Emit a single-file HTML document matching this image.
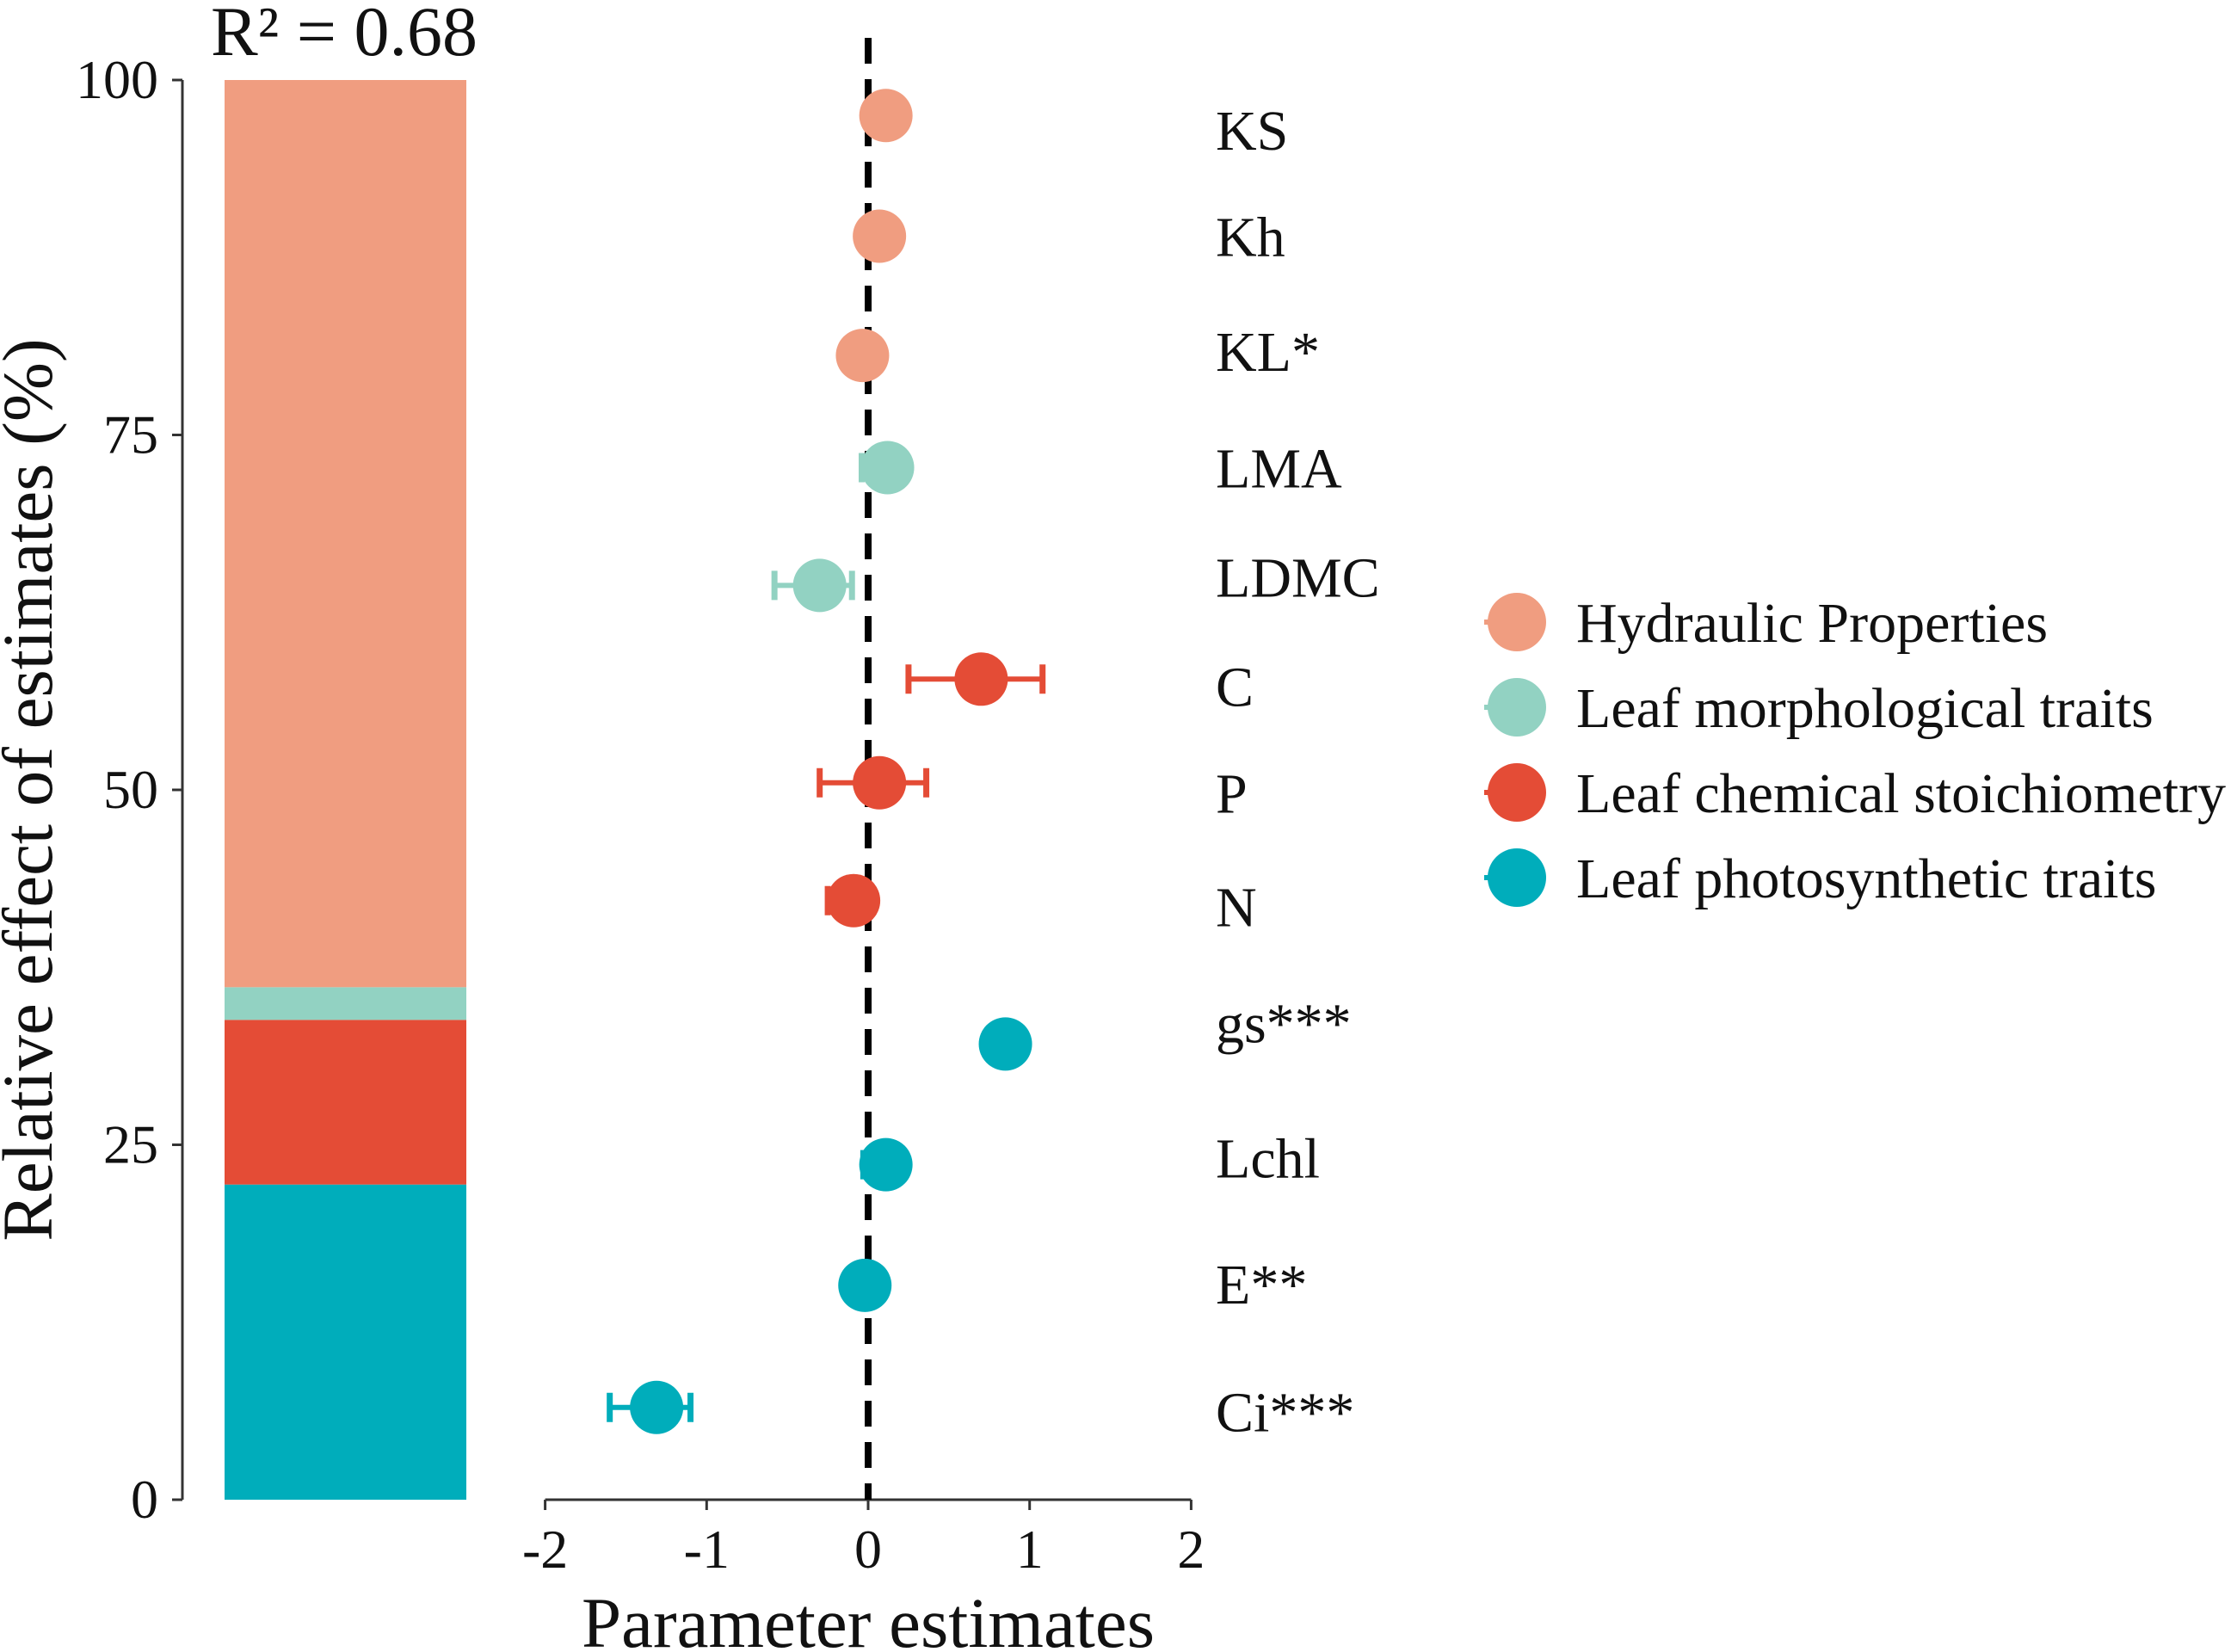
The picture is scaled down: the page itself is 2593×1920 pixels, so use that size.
<!DOCTYPE html>
<html><head><meta charset="utf-8"><style>
html,body{margin:0;padding:0;background:#fff}
svg{display:block;font-family:"Liberation Serif",serif}
</style></head><body>
<svg id="chart" width="2593" height="1920" viewBox="0 0 2593 1920"></svg>
<script>
const groups=["Hydraulic Properties","Leaf morphological traits","Leaf chemical stoichiometry","Leaf photosynthetic traits"];
const groupColors=["#f09d80","#92d2c2","#e44c36","#00adbb"];
const shares=[63.9,2.3,11.6,22.2];
const traits=["KS","Kh","KL*","LMA","LDMC","C","P","N","gs***","Lchl","E**","Ci***"];
const traitGroup=[0,0,0,1,1,2,2,2,3,3,3,3];
const traitY=[97.5,89,80.6,72.7,64.4,57.8,50.5,42.2,32.1,23.6,15.1,6.5];
const labelY=[96.5,89.0,80.9,72.7,65.0,57.3,49.8,41.8,33.6,24.1,15.2,6.2];
const est=[0.11,0.07,-0.035,0.12,-0.30,0.70,0.07,-0.09,0.85,0.11,-0.02,-1.31];
const lo=[0.11,0.07,-0.035,-0.04,-0.58,0.25,-0.30,-0.25,0.85,-0.03,-0.02,-1.60];
const hi=[0.11,0.07,-0.035,0.12,-0.10,1.08,0.36,-0.09,0.85,0.11,-0.02,-1.10];
const yTicks=[0,25,50,75,100];
const xTicks=[-2,-1,0,1,2];

const NS="http://www.w3.org/2000/svg";
const svg=document.getElementById('chart');
function mk(t,a,txt){const e=document.createElementNS(NS,t);for(const k in a)e.setAttribute(k,a[k]);if(txt!=null)e.textContent=txt;svg.appendChild(e);return e;}
const yS=v=>1743-v*16.5;
const xS=v=>1009+v*187.7;

let e=mk('line',{x1:212,y1:yS(0),x2:212,y2:yS(100),stroke:'#333',"stroke-width":3});

yTicks.forEach(t=>{
  let l=mk('line',{x1:200,y1:yS(t),x2:212,y2:yS(t),stroke:'#333',"stroke-width":3});
  
  let tx=mk('text',{x:184,y:yS(t)+21,"font-size":64,"text-anchor":"end",fill:'#111'},t);
  
});
e=mk('text',{x:0,y:0,"font-size":83,"text-anchor":"middle",fill:'#111',transform:'translate(60,918) rotate(-90)'},'Relative effect of estimates (%)');

let cum=0;
[3,2,1,0].forEach(g=>{
  const r=mk('rect',{x:261,y:yS(cum+shares[g]),width:281,height:shares[g]*16.5,fill:groupColors[g]});
  
  cum+=shares[g];
});
e=mk('text',{x:400,y:64,"font-size":82,"text-anchor":"middle",fill:'#111'},'R² = 0.68');


e=mk('line',{x1:xS(-2),y1:1743,x2:xS(2),y2:1743,stroke:'#333',"stroke-width":3});

xTicks.forEach(t=>{
  let l=mk('line',{x1:xS(t),y1:1743,x2:xS(t),y2:1755,stroke:'#333',"stroke-width":3});
  
  let tx=mk('text',{x:xS(t),y:1822,"font-size":64,"text-anchor":"middle",fill:'#111'},t);
  
});
e=mk('text',{x:1009,y:1914,"font-size":83,"text-anchor":"middle",fill:'#111'},'Parameter estimates');

e=mk('line',{x1:xS(0),y1:44,x2:xS(0),y2:1743,stroke:'#000',"stroke-width":8,"stroke-dasharray":"30,18"});


traits.forEach((t,i)=>{
  const c=groupColors[traitGroup[i]],y=yS(traitY[i]);
  if(hi[i]-lo[i]>0.01){
    let l=mk('line',{x1:xS(lo[i]),y1:y,x2:xS(hi[i]),y2:y,stroke:c,"stroke-width":6});
    
    [lo[i],hi[i]].forEach(v=>{
      let cp=mk('line',{x1:xS(v),y1:y-17,x2:xS(v),y2:y+17,stroke:c,"stroke-width":7});
      
    });
  }
  let p=mk('circle',{cx:xS(est[i]),cy:y,r:31,fill:c});
  
  let tx=mk('text',{x:1413,y:yS(labelY[i])+23,"font-size":66,fill:'#111'},t);
  
});
groups.forEach((g,i)=>{
  const y=723+i*99;
  let l=mk('line',{x1:1725,y1:y,x2:1761,y2:y,stroke:groupColors[i],"stroke-width":6});
  
  let c=mk('circle',{cx:1763,cy:y,r:34,fill:groupColors[i]});
  
  let tx=mk('text',{x:1832,y:y+23,"font-size":66,fill:'#111'},g);
  
});
</script>
</body></html>
